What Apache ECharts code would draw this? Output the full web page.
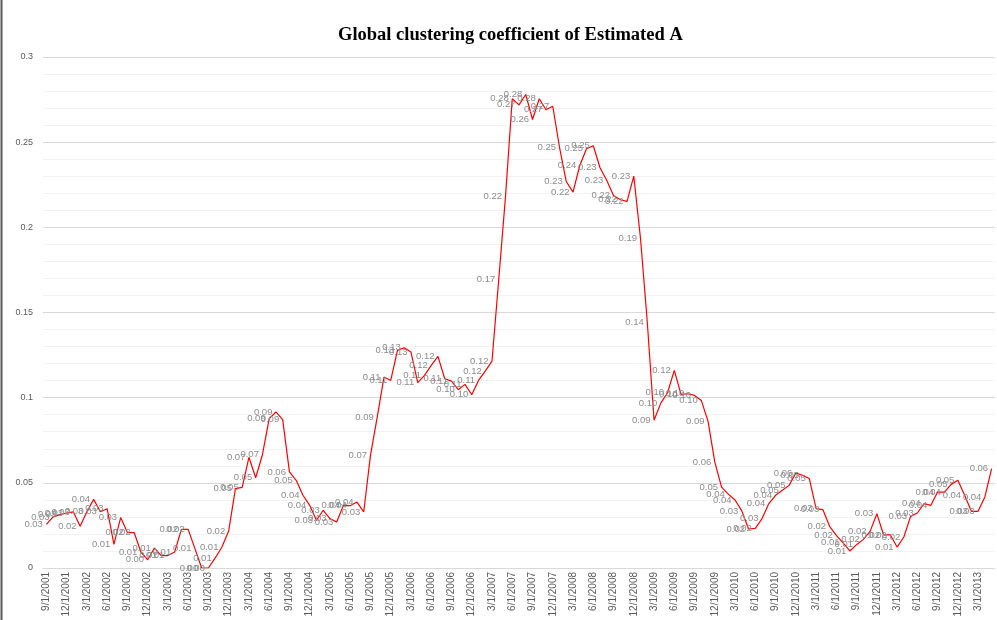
<!DOCTYPE html>
<html>
<head>
<meta charset="utf-8">
<script src="https://cdn.jsdelivr.net/npm/echarts@6/dist/echarts.min.js"></script>
<style>
  html, body { margin: 0; padding: 0; background: #fff; }
  #chart { width: 997px; height: 620px; }
</style>
</head>
<body>
<div id="chart"></div>
<script>
// monthly points, first one is 9/1/2001
const startYear = 2001, startMonth = 9, pointCount = 141
const months = []
for (let k = 0; k < pointCount; k++) {
  const m = (startMonth - 1 + k) % 12 + 1
  const y = startYear + Math.floor((startMonth - 1 + k) / 12)
  months.push(m + '/1/' + y)
}

// global clustering coefficient
const coefficient = [
  0.0256, 0.0300, 0.0313, 0.0323, 0.0329, 0.0245, 0.0330, 0.0403, 0.0330, 0.0348,
  0.0139, 0.0296, 0.0208, 0.0208, 0.0094, 0.0048, 0.0117, 0.0073, 0.0073, 0.0094,
  0.0227, 0.0227, 0.0114, 0.0000, 0.0000, 0.0059, 0.0123, 0.0217, 0.0466, 0.0473,
  0.0650, 0.0530, 0.0665, 0.0877, 0.0916, 0.0871, 0.0564, 0.0515, 0.0427, 0.0368,
  0.0280, 0.0339, 0.0290, 0.0270, 0.0368, 0.0366, 0.0387, 0.0329, 0.0661, 0.0886,
  0.1121, 0.1101, 0.1278, 0.1293, 0.1268, 0.1088, 0.1131, 0.1190, 0.1242, 0.1111,
  0.1097, 0.1047, 0.1078, 0.1017, 0.1101, 0.1156, 0.1215, 0.1694, 0.2180, 0.2755,
  0.2719, 0.2780, 0.2633, 0.2755, 0.2690, 0.2711, 0.2470, 0.2269, 0.2207, 0.2363,
  0.2461, 0.2479, 0.2350, 0.2275, 0.2187, 0.2162, 0.2152, 0.2301, 0.1933, 0.1444,
  0.0867, 0.0968, 0.1029, 0.1160, 0.1019, 0.1023, 0.1013, 0.0984, 0.0861, 0.0622,
  0.0475, 0.0434, 0.0399, 0.0335, 0.0229, 0.0233, 0.0290, 0.0378, 0.0427, 0.0456,
  0.0485, 0.0558, 0.0544, 0.0525, 0.0349, 0.0343, 0.0245, 0.0192, 0.0148, 0.0100,
  0.0137, 0.0168, 0.0215, 0.0319, 0.0194, 0.0194, 0.0123, 0.0182, 0.0303, 0.0323,
  0.0378, 0.0368, 0.0446, 0.0446, 0.0491, 0.0515, 0.0427, 0.0333, 0.0333, 0.0417,
  0.0583
]

const myChart = echarts.init(document.getElementById('chart'))

const option = {
  animation: false,
  backgroundColor: '#fff',
  title: {
    text: 'Global clustering coefficient of Estimated A',
    left: 333,
    top: 21,
    textStyle: {
      fontFamily: 'Liberation Serif',
      fontWeight: 'bold',
      fontSize: 18.5,
      color: '#000',
    },
  },
  graphic: [
    {
      type: 'line',
      shape: { x1: 1.5, y1: 0, x2: 1.5, y2: 620 },
      style: { stroke: '#595959', lineWidth: 2 },
    },
  ],
  grid: {
    left: 43,
    right: 2,
    top: 57,
    bottom: 52,
  },
  xAxis: {
    type: 'category',
    data: months,
    boundaryGap: true,
    axisLine: { lineStyle: { color: '#d9d9d9' } },
    axisTick: {
      interval: 2,
      length: 5,
      lineStyle: { color: '#d9d9d9' },
    },
    axisLabel: {
      interval: 2,
      rotate: 90,
      margin: 4,
      fontFamily: 'Liberation Sans',
      fontSize: 10,
      color: '#595959',
    },
  },
  yAxis: {
    type: 'value',
    min: 0,
    max: 0.3,
    interval: 0.05,
    axisLine: { show: false },
    axisTick: { show: false },
    axisLabel: {
      margin: 10,
      fontFamily: 'Liberation Sans',
      fontSize: 9,
      color: '#595959',
    },
    splitLine: { lineStyle: { color: '#d9d9d9', width: 1 } },
    minorTick: { show: false, splitNumber: 5 },
    minorSplitLine: { show: true, lineStyle: { color: '#f2f2f2', width: 1 } },
  },
  series: [
    {
      type: 'line',
      data: coefficient,
      symbol: 'circle',
      symbolSize: 1,
      showSymbol: true,
      itemStyle: { color: 'rgba(255,0,0,0)' },
      lineStyle: { color: '#ff0000', width: 1.2 },
      label: {
        show: true,
        position: 'left',
        distance: 3,
        fontFamily: 'Liberation Sans',
        fontSize: 9.5,
        color: '#8c8c8c',
        formatter: (p) => p.value.toFixed(2),
      },
    },
  ],
}

myChart.setOption(option)
</script>
</body>
</html>
